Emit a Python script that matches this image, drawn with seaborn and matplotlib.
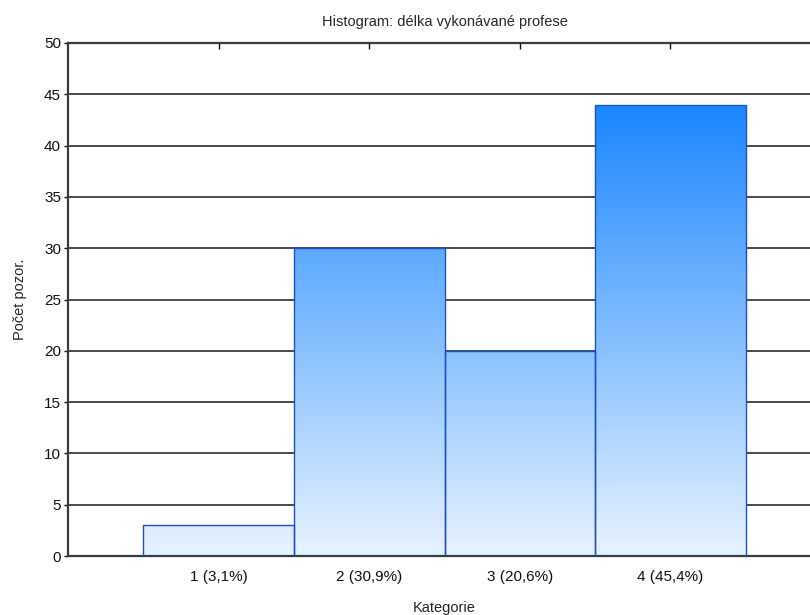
import numpy as np
import pandas as pd
import matplotlib
matplotlib.use("Agg")
import matplotlib.pyplot as plt
from matplotlib.colors import LinearSegmentedColormap
import seaborn as sns


CATEGORIES = ["1 (3,1%)", "2 (30,9%)", "3 (20,6%)", "4 (45,4%)"]
COUNTS = [3, 30, 20, 44]

TITLE = "Histogram: délka vykonávané profese"
X_LABEL = "Kategorie"
Y_LABEL = "Počet pozor."


def draw_gradient_bars(ax, top_value):
    """
    Replace the flat bar fill with a vertical light-to-blue gradient
    """

    cmap = LinearSegmentedColormap.from_list(
        "statblue", ["#e8f3ff", "#1a86ff"]
    )

    grad = np.linspace(0, 1, 256).reshape(-1, 1)

    for patch in ax.patches:

        x0 = patch.get_x()
        x1 = x0 + patch.get_width()
        h = patch.get_height()

        img = ax.imshow(
            grad[: max(2, int(256 * h / top_value))],
            extent=(x0, x1, 0, h),
            origin="lower",
            cmap=cmap,
            vmin=0,
            vmax=1,
            aspect="auto",
            zorder=2,
        )

        img.set_clip_path(patch)

        patch.set_facecolor("none")
        patch.set_zorder(3)


def main():

    sns.set_style("white")

    plt.rcParams["font.family"] = ["Liberation Sans", "DejaVu Sans"]

    data = pd.DataFrame({"Kategorie": CATEGORIES, "Count": COUNTS})

    fig = plt.figure(figsize=(8.1, 6.15), dpi=100)

    ax = fig.add_axes([68 / 810, 1 - 556 / 615, 753 / 810, 513 / 615])

    sns.barplot(
        data=data,
        x="Kategorie",
        y="Count",
        width=1.0,
        color="#5aaaff",
        edgecolor="#1a4fd0",
        linewidth=1.0,
        ax=ax,
    )

    draw_gradient_bars(ax, max(COUNTS))

    ax.set_xlim(-1, 4)
    ax.set_ylim(0, 50)
    ax.set_yticks(range(0, 51, 5))

    ax.yaxis.grid(True, color="#1a1a1a", linewidth=1.1)
    ax.set_axisbelow(True)

    for side in ["left", "bottom", "top"]:
        ax.spines[side].set_color("#3a3a44")
        ax.spines[side].set_linewidth(1.6)
    ax.spines["right"].set_visible(False)

    ax.tick_params(
        axis="x",
        direction="in",
        top=True,
        bottom=True,
        length=4,
        width=1,
        labelsize=11,
        pad=10,
        colors="#111111",
    )
    ax.tick_params(
        axis="y",
        direction="out",
        left=True,
        length=3,
        width=1,
        labelsize=11,
        pad=2,
        colors="#111111",
    )

    ax.set_title(TITLE, fontsize=10.5, pad=12)
    ax.set_xlabel(X_LABEL, fontsize=10.5, labelpad=12)
    ax.set_ylabel(Y_LABEL, fontsize=10.5, labelpad=12)

    fig.savefig("out.png", dpi=100)


if __name__ == "__main__":
    main()
